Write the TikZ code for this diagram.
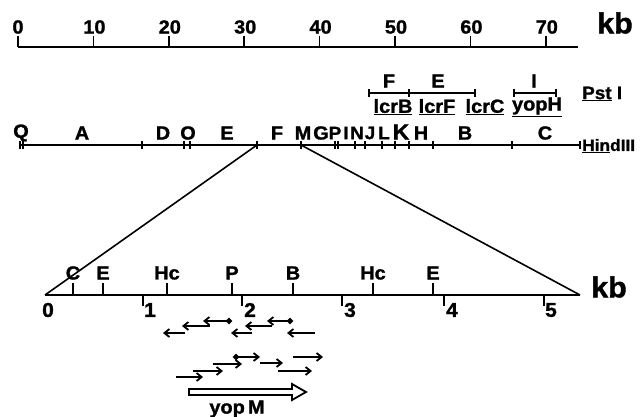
\documentclass[tikz,border=0pt]{standalone}
\usepackage{fontspec}
\setmainfont{Liberation Sans}[FakeStretch=1.05, BoldFeatures={FakeBold=1.3}]
\usetikzlibrary{arrows.meta}
\begin{document}
\begin{tikzpicture}[x=1pt,y=-1pt,
  lbl/.style={font=\fontsize{19}{19}\selectfont\bfseries, inner sep=0pt, anchor=center},
  crowd/.style={font=\fontsize{18}{18}\selectfont\bfseries, inner sep=0pt, anchor=center},
  biglbl/.style={font=\fontsize{29}{29}\selectfont\bfseries, inner sep=0pt, anchor=center},
  axisline/.style={line width=2.8pt},
  mapline/.style={line width=2.2pt},
  tickmark/.style={line width=1.7pt},
  fanline/.style={line width=1.6pt},
  seqarrow/.style={line width=2.1pt, -{Straight Barb[length=5pt,width=8pt,line width=1.8pt]}},
  seqdot/.style={line width=2.1pt, {Circle[length=6pt]}-{Straight Barb[length=5pt,width=8pt,line width=1.8pt]}}]
\useasboundingbox (0,0) rectangle (640,417);

% ---- top scale, 0-70 kb
\draw[axisline] (18,47) -- (578,47);
\foreach \k in {0,...,7}{
  \pgfmathsetmacro{\xx}{18+75.4*\k}
  \draw[tickmark] (\xx,47) -- (\xx,36);
  \ifnum\k=0
    \node[lbl] (top\k) at (\xx,27) {0};
  \else
    \node[lbl] (top\k) at (\xx+1,27) {\k0};
  \fi
}
\node[biglbl] (kbtop) at (615,23) {kb};

% ---- PstI fragments and genes
\draw[line width=1.5pt] (369,93) -- (475,93);
\foreach \xx in {369,409,475}{\draw[line width=1.3pt] (\xx,89) -- (\xx,97);}
\draw[line width=1.5pt] (514,93) -- (556,93);
\foreach \xx in {514,556}{\draw[line width=1.3pt] (\xx,89) -- (\xx,97);}
\node[lbl] (pF) at (389,81) {F};
\node[lbl] (pE) at (438,81) {E};
\node[lbl] (pI) at (534,81) {I};
\node[lbl] (gB) at (393,107) {\underline{lcrB}};
\node[lbl] (gF) at (437,107) {\underline{lcrF}};
\node[lbl] (gC) at (485,107) {\underline{lcrC}};
\node[lbl] (gH) at (537,107) {\underline{yopH}};
\node[lbl, anchor=west, font=\fontsize{18}{18}\selectfont\bfseries] (pst) at (582,94) {\underline{Pst}\ I};

% ---- HindIII map
\draw[mapline] (20,145) -- (580,145);
\foreach \xx in {20,23,142,184,190,257,301,335,338,355,365,382,395,409,433,512,580}{
  \draw[line width=1.2pt] (\xx,141) -- (\xx,149);}
\foreach \t/\xx in {Q/21,A/82,D/163,O/188,E/227,F/277,M/303,G/321,H/421,B/465,C/545}{
  \node[lbl] (h\t) at (\xx,133) {\t};}
\foreach \t/\xx in {P/335,I/346,N/357,J/370,L/384}{
  \node[crowd] (h\t) at (\xx,133) {\t};}
\node[lbl, font=\fontsize{22}{22}\selectfont\bfseries] (hK) at (401,132) {K};
\node[lbl, anchor=west, font=\fontsize{16.5}{16.5}\selectfont\bfseries] (hind) at (582,146) {\underline{Hin}dIII};

% ---- enlargement of the F/M region
\coordinate (fanL) at (257,145);
\coordinate (fanR) at (301,145);
\coordinate (detL) at (45,295);
\coordinate (detR) at (580,295);
\draw[fanline] (fanL) -- (detL);
\draw[fanline] (fanR) -- (detR);

% ---- detailed scale, 0-5 kb
\draw[axisline] (detL) -- (detR);
\foreach \xx in {73,103,167,232,293,373,433}{
  \draw[tickmark] (\xx,295) -- (\xx,283);}
\node[lbl] (sC) at (73,273) {C};
\node[lbl] (sE1) at (103,273) {E};
\node[lbl] (sHc1) at (167,273) {Hc};
\node[lbl] (sP) at (232,273) {P};
\node[lbl] (sB) at (293,273) {B};
\node[lbl] (sHc2) at (373,273) {Hc};
\node[lbl] (sE2) at (433,273) {E};
\foreach \xx in {143,242,342,444,544}{\draw[tickmark] (\xx,295) -- (\xx,306);}
\foreach \n/\xx in {0/48,1/150,2/250,3/350,4/452,5/551}{
  \node[lbl, font=\fontsize{20}{20}\selectfont\bfseries] (n\n) at (\xx,310) {\n};}
\node[biglbl] (kbbot) at (609,287) {kb};

% ---- sequencing strategy, leftward reads
\draw[seqdot] (232,321) -- (203,321);
\draw[seqarrow] (210,326) -- (182,326);
\draw[seqarrow] (185,333) -- (163,333);
\draw[seqdot] (293,321) -- (267,321);
\draw[seqarrow] (272,326) -- (245,326);
\draw[seqarrow] (252,333) -- (231,333);
\draw[seqarrow] (315,333) -- (287,333);

% ---- rightward reads
\draw[seqarrow] (176,377) -- (203,377);
\draw[seqarrow] (193,371) -- (223,371);
\draw[seqarrow] (213,364) -- (242,364);
\draw[seqdot] (233,357) -- (260,357);
\draw[seqarrow] (260,363) -- (283,363);
\draw[seqarrow] (278,371) -- (312,371);
\draw[seqarrow] (293,357) -- (323,357);

% ---- yopM open reading frame
\draw[line width=1.8pt, fill=white, line join=miter]
  (189,389) -- (292,389) -- (292,384) -- (306,392) -- (292,400) -- (292,395) -- (189,395) -- cycle;
\node[lbl] (yopm) at (237,409) {yop\,M};
\end{tikzpicture}
\end{document}
